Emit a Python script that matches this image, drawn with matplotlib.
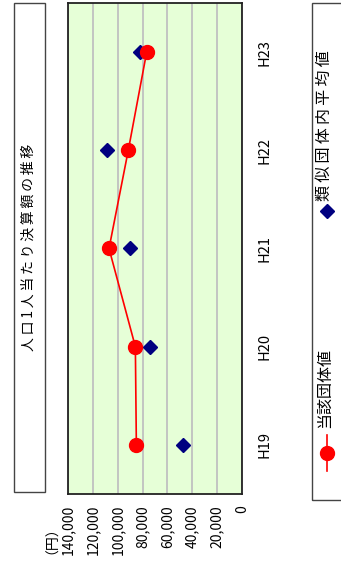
import matplotlib
matplotlib.use("Agg")
import matplotlib.pyplot as plt
from matplotlib.patches import Rectangle
from matplotlib.lines import Line2D

plt.rcParams['font.family'] = ['Noto Sans CJK JP', 'DejaVu Sans']

# data (chart is drawn rotated 90 degrees, as in the reference)
years = ['H19', 'H20', 'H21', 'H22', 'H23']
own_values = [85000, 85800, 107000, 91500, 76700]
similar_avg = [47200, 74000, 90100, 108900, 82300]
value_ticks = [0, 20000, 40000, 60000, 80000, 100000, 120000, 140000]

W, H = 341, 563
fig = plt.figure(figsize=(W / 100, H / 100), dpi=100)

def fx(px):
    return px / W

def fy(py):
    return 1 - py / H

def spaced(s):
    return '\u2009'.join(s)

ax = fig.add_axes([fx(68), fy(494), fx(242) - fx(68), fy(3) - fy(494)])
ax.set_facecolor('#E6FFD7')

pos = list(range(len(years)))
ax.plot(own_values, pos, color='red', lw=1.2, marker='o', ms=10,
        markeredgecolor='red', zorder=3)
ax.plot(similar_avg, pos, ls='none', marker='D', ms=6.8,
        color='#000080', zorder=2)

ax.set_xlim(140000, 0)
ax.set_ylim(-0.5, len(years) - 0.5)
ax.set_xticks(value_ticks)
ax.set_xticklabels([f'{v:,}' for v in value_ticks], rotation=90, fontsize=10)
ax.tick_params(axis='x', length=0, pad=8)
ax.set_yticks(pos)
ax.set_yticklabels(years, rotation=90, fontsize=10.5, va='center')
ax.yaxis.tick_right()
ax.tick_params(axis='y', length=0, pad=11)
ax.grid(axis='x', color='#C0C0C0', lw=1.3)
ax.set_axisbelow(True)
for s in ax.spines.values():
    s.set_linewidth(1.3)
    s.set_color('#222222')

# unit label
fig.text(fx(45), fy(533), '（円）', rotation=90, ha='center', va='center', fontsize=10)

# title box
fig.patches.append(Rectangle((fx(14), fy(492)), fx(45) - fx(14), fy(3) - fy(492),
                             transform=fig.transFigure, fill=False,
                             ec='#444444', lw=1))
fig.text(fx(29), fy(247), spaced('人口1人当たり決算額の推移'), rotation=90,
         ha='center', va='center', fontsize=10)

# legend box
fig.patches.append(Rectangle((fx(312), fy(500)), fx(345) - fx(312), fy(3) - fy(500),
                             transform=fig.transFigure, fill=False,
                             ec='#444444', lw=1))
fig.lines.append(Line2D([fx(327), fx(327)], [fy(471), fy(435)],
                        transform=fig.transFigure, color='red', lw=1.2))
fig.lines.append(Line2D([fx(327)], [fy(453)], transform=fig.transFigure,
                        color='red', marker='o', ms=10, ls='none'))
fig.text(fx(324), fy(428), '当該団体値', rotation=90, ha='center', va='bottom',
         fontsize=11.5)
fig.lines.append(Line2D([fx(327)], [fy(211)], transform=fig.transFigure,
                        color='#000080', marker='D', ms=6.8, ls='none'))
fig.text(fx(324), fy(201), spaced('類似団体内平均値'), rotation=90, ha='center',
         va='bottom', fontsize=11.5)

fig.savefig('out.png', dpi=100)
